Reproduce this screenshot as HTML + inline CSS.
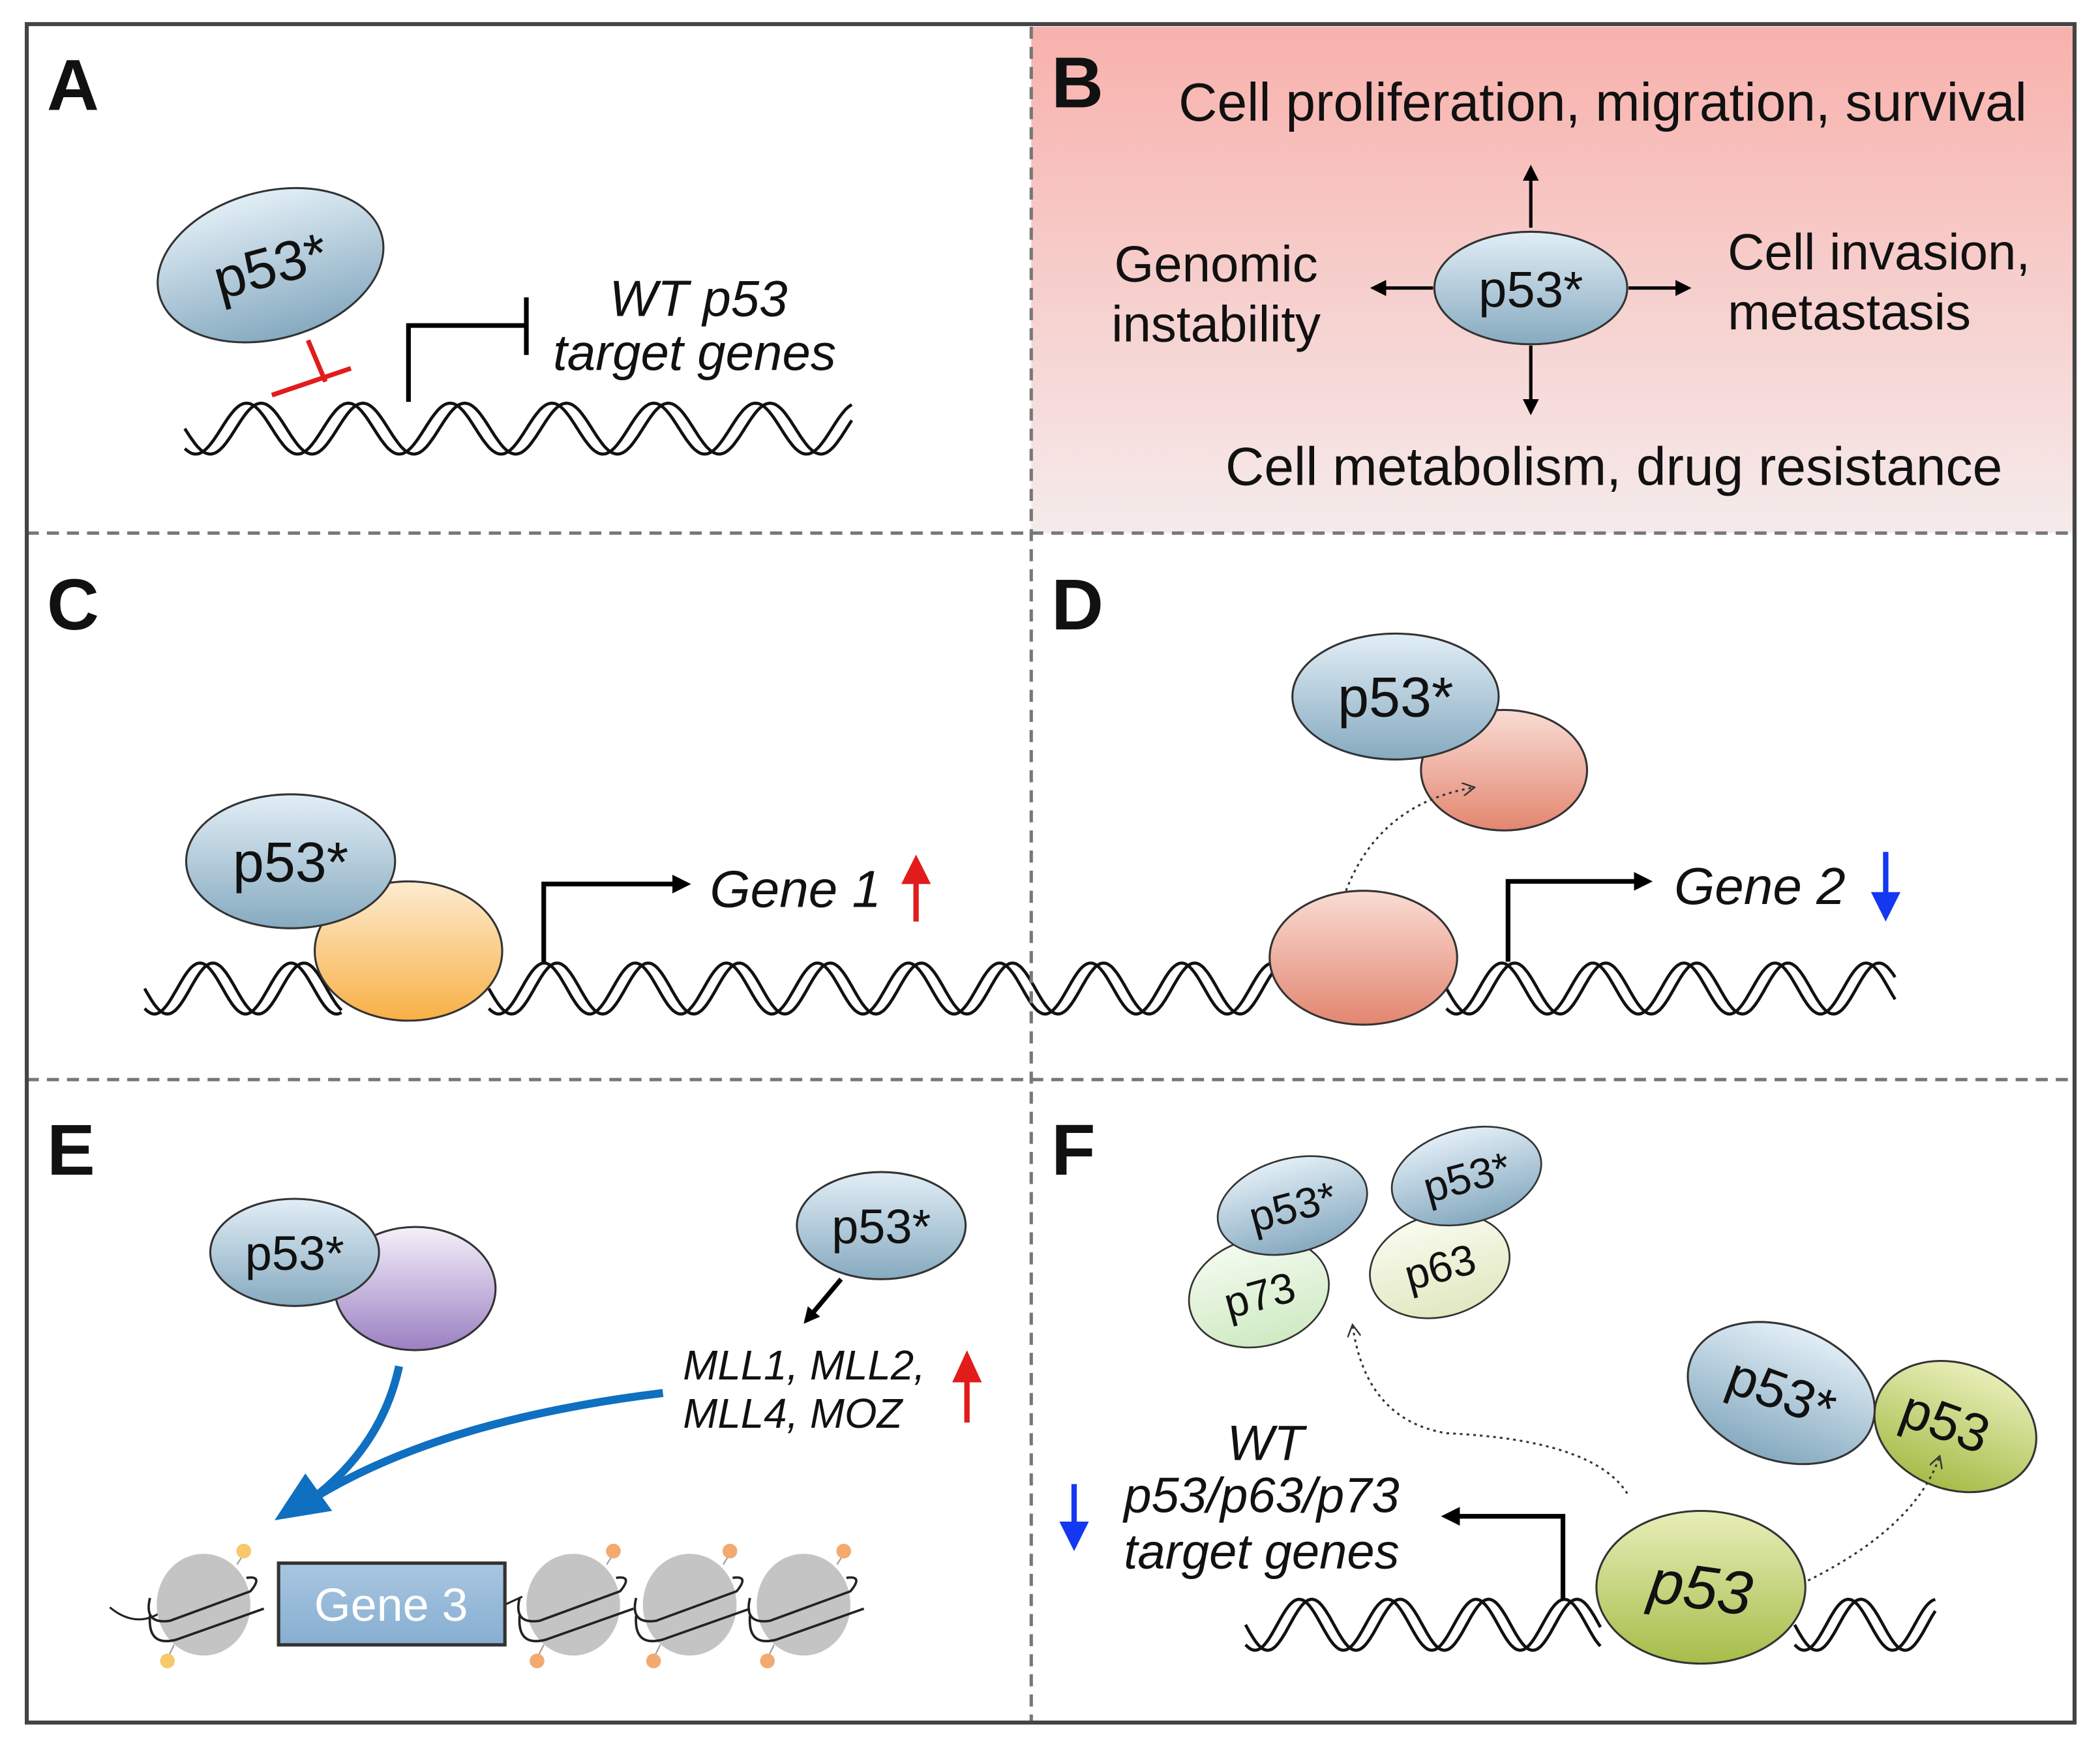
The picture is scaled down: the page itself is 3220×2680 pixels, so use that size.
<!DOCTYPE html>
<html><head><meta charset="utf-8"><style>
html,body{margin:0;padding:0;background:#fff}
svg{display:block}
text{font-family:"Liberation Sans",Arial,sans-serif;fill:#111}
</style></head><body>
<svg id="s" width="3220" height="2680" viewBox="0 0 1568 1305" preserveAspectRatio="none" xmlns="http://www.w3.org/2000/svg">
<defs>
<linearGradient id="pink" x1="0" y1="0" x2="0" y2="1"><stop offset="0" stop-color="#f8b1ac"/><stop offset="1" stop-color="#f5ebeb"/></linearGradient>
<linearGradient id="blue" x1="0" y1="0" x2="0" y2="1"><stop offset="0" stop-color="#e2eef6"/><stop offset="1" stop-color="#86aac0"/></linearGradient>
<linearGradient id="orange" x1="0" y1="0" x2="0" y2="1"><stop offset="0" stop-color="#fdebd0"/><stop offset="1" stop-color="#f8b045"/></linearGradient>
<linearGradient id="salmon" x1="0" y1="0" x2="0" y2="1"><stop offset="0" stop-color="#f9dcd4"/><stop offset="1" stop-color="#e38670"/></linearGradient>
<linearGradient id="purple" x1="0" y1="0" x2="0" y2="1"><stop offset="0" stop-color="#f6f0fa"/><stop offset="1" stop-color="#9a80c2"/></linearGradient>
<linearGradient id="green" x1="0" y1="0" x2="0" y2="1"><stop offset="0" stop-color="#e8eeb8"/><stop offset="1" stop-color="#a5bd4a"/></linearGradient>
<linearGradient id="lg1" x1="0" y1="0" x2="0" y2="1"><stop offset="0" stop-color="#f4fbf0"/><stop offset="1" stop-color="#cfeac2"/></linearGradient>
<linearGradient id="lg2" x1="0" y1="0" x2="0" y2="1"><stop offset="0" stop-color="#fafbef"/><stop offset="1" stop-color="#e0e8c0"/></linearGradient>
<linearGradient id="gene" x1="0" y1="0" x2="0" y2="1"><stop offset="0" stop-color="#a9c6e0"/><stop offset="1" stop-color="#86aed2"/></linearGradient>
<marker id="ah" markerWidth="12" markerHeight="12" refX="9" refY="6" orient="auto" markerUnits="userSpaceOnUse" viewBox="0 0 12 12"><path d="M0,0 L12,6 L0,12 z" fill="#000"/></marker>
<marker id="ahb" markerWidth="14" markerHeight="14" refX="10" refY="7" orient="auto" markerUnits="userSpaceOnUse" viewBox="0 0 14 14"><path d="M0,0 L14,7 L0,14 z" fill="#000"/></marker>
<marker id="ahd" markerWidth="10" markerHeight="10" refX="8" refY="5" orient="auto" markerUnits="userSpaceOnUse" viewBox="0 0 10 10"><path d="M0,0 L9,5 L0,10" fill="none" stroke="#333" stroke-width="1.2"/></marker>
</defs>
<rect x="770" y="20" width="778" height="378" fill="url(#pink)"/>
<g id="helix" fill="none" stroke="#111" stroke-width="2.3"></g>

<g font-weight="bold" font-size="54">
<text x="35" y="82">A</text><text x="785" y="80">B</text><text x="35" y="470">C</text><text x="785" y="470">D</text><text x="35" y="877">E</text><text x="785" y="877">F</text>
</g>

<!-- A -->
<ellipse cx="202" cy="198" rx="86" ry="55" transform="rotate(-15 202 198)" fill="url(#blue)" stroke="#333" stroke-width="1.5"/>
<text x="202" y="213" font-size="42" text-anchor="middle" transform="rotate(-15 202 198)">p53*</text>
<line x1="230" y1="254" x2="243" y2="285" stroke="#e21b1b" stroke-width="3.5"/>
<line x1="203" y1="295" x2="262" y2="275" stroke="#e21b1b" stroke-width="3.5"/>
<polyline points="305,300 305,243 393,243" fill="none" stroke="#000" stroke-width="3.5"/>
<line x1="393" y1="222" x2="393" y2="265" stroke="#000" stroke-width="3.5"/>
<text x="455" y="236" font-size="38" font-style="italic">WT p53</text>
<text x="413" y="276" font-size="38" font-style="italic">target genes</text>

<!-- B -->
<text x="880" y="90" font-size="40">Cell proliferation, migration, survival</text>
<ellipse cx="1143" cy="215" rx="72" ry="42" fill="url(#blue)" stroke="#333" stroke-width="1.5"/>
<text x="1143" y="229" font-size="38" text-anchor="middle">p53*</text>
<g stroke="#000" stroke-width="2.5">
<line x1="1143" y1="170" x2="1143" y2="126" marker-end="url(#ah)"/>
<line x1="1143" y1="258" x2="1143" y2="307" marker-end="url(#ah)"/>
<line x1="1070" y1="215" x2="1026" y2="215" marker-end="url(#ah)"/>
<line x1="1216" y1="215" x2="1260" y2="215" marker-end="url(#ah)"/>
</g>
<text x="908" y="210" font-size="38" text-anchor="middle">Genomic</text>
<text x="908" y="255" font-size="38" text-anchor="middle">instability</text>
<text x="1290" y="201" font-size="38">Cell invasion,</text>
<text x="1290" y="246" font-size="38">metastasis</text>
<text x="915" y="362" font-size="40">Cell metabolism, drug resistance</text>

<!-- C -->
<ellipse cx="305" cy="710" rx="70" ry="52" fill="url(#orange)" stroke="#333" stroke-width="1.5"/>
<ellipse cx="217" cy="643" rx="78" ry="50" fill="url(#blue)" stroke="#333" stroke-width="1.5"/>
<text x="217" y="658" font-size="42" text-anchor="middle">p53*</text>
<polyline points="406,718 406,660 512,660" fill="none" stroke="#000" stroke-width="3.5" marker-end="url(#ahb)"/>
<text x="530" y="677" font-size="39" font-style="italic">Gene 1</text>
<line x1="684" y1="688" x2="684" y2="656" stroke="#e21b1b" stroke-width="4"/>
<path d="M673,660 L684,638 L695,660 z" fill="#e21b1b"/>

<!-- D -->
<ellipse cx="1123" cy="575" rx="62" ry="45" fill="url(#salmon)" stroke="#333" stroke-width="1.5"/>
<ellipse cx="1042" cy="520" rx="77" ry="47" fill="url(#blue)" stroke="#333" stroke-width="1.5"/>
<text x="1042" y="535" font-size="42" text-anchor="middle">p53*</text>
<ellipse cx="1018" cy="715" rx="70" ry="50" fill="url(#salmon)" stroke="#333" stroke-width="1.5"/>
<path d="M1005,665 Q1030,600 1100,588" fill="none" stroke="#333" stroke-width="1.5" stroke-dasharray="2,3" marker-end="url(#ahd)"/>
<polyline points="1126,718 1126,658 1230,658" fill="none" stroke="#000" stroke-width="3.5" marker-end="url(#ahb)"/>
<text x="1250" y="675" font-size="39" font-style="italic">Gene 2</text>
<line x1="1408" y1="636" x2="1408" y2="668" stroke="#1438f0" stroke-width="4"/>
<path d="M1397,666 L1408,688 L1419,666 z" fill="#1438f0"/>

<!-- E -->
<ellipse cx="310" cy="962" rx="60" ry="46" fill="url(#purple)" stroke="#333" stroke-width="1.5"/>
<ellipse cx="220" cy="935" rx="63" ry="40" fill="url(#blue)" stroke="#333" stroke-width="1.5"/>
<text x="220" y="948" font-size="36" text-anchor="middle">p53*</text>
<ellipse cx="658" cy="915" rx="63" ry="40" fill="url(#blue)" stroke="#333" stroke-width="1.5"/>
<text x="658" y="928" font-size="36" text-anchor="middle">p53*</text>
<line x1="628" y1="955" x2="602" y2="986" stroke="#000" stroke-width="3.5" marker-end="url(#ah)"/>
<text x="510" y="1030" font-size="31" font-style="italic">MLL1, MLL2,</text>
<text x="510" y="1066" font-size="31" font-style="italic">MLL4, MOZ</text>
<line x1="722" y1="1062" x2="722" y2="1030" stroke="#e21b1b" stroke-width="4"/>
<path d="M711,1032 L722,1008 L733,1032 z" fill="#e21b1b"/>
<path d="M298,1020 Q285,1080 232,1120" fill="none" stroke="#0f6fc0" stroke-width="6"/>
<path d="M495,1040 Q330,1060 235,1118" fill="none" stroke="#0f6fc0" stroke-width="6"/>
<path d="M205,1135 L228,1100 L248,1128 z" fill="#0f6fc0"/>
<g id="nuc"></g>
<rect x="208" y="1167" width="169" height="61" fill="url(#gene)" stroke="#333" stroke-width="2.5"/>
<text x="292" y="1210" font-size="35" text-anchor="middle" style="fill:#fff">Gene 3</text>

<!-- F -->
<ellipse cx="940" cy="965" rx="53" ry="40" transform="rotate(-15 940 965)" fill="url(#lg1)" stroke="#333" stroke-width="1.3"/>
<text x="940" y="978" font-size="32" text-anchor="middle" transform="rotate(-15 940 965)">p73</text>
<ellipse cx="965" cy="900" rx="57" ry="35" transform="rotate(-15 965 900)" fill="url(#blue)" stroke="#333" stroke-width="1.3"/>
<text x="965" y="912" font-size="32" text-anchor="middle" transform="rotate(-15 965 900)">p53*</text>
<ellipse cx="1075" cy="945" rx="53" ry="38" transform="rotate(-15 1075 945)" fill="url(#lg2)" stroke="#333" stroke-width="1.3"/>
<text x="1075" y="957" font-size="32" text-anchor="middle" transform="rotate(-15 1075 945)">p63</text>
<ellipse cx="1095" cy="878" rx="57" ry="35" transform="rotate(-15 1095 878)" fill="url(#blue)" stroke="#333" stroke-width="1.3"/>
<text x="1095" y="890" font-size="32" text-anchor="middle" transform="rotate(-15 1095 878)">p53*</text>
<ellipse cx="1460" cy="1065" rx="62" ry="47" transform="rotate(20 1460 1065)" fill="url(#green)" stroke="#333" stroke-width="1.5"/>
<text x="1452" y="1075" font-size="40" text-anchor="middle" transform="rotate(20 1452 1063)">p53</text>
<ellipse cx="1330" cy="1040" rx="72" ry="50" transform="rotate(20 1330 1040)" fill="url(#blue)" stroke="#333" stroke-width="1.5"/>
<text x="1330" y="1053" font-size="40" text-anchor="middle" transform="rotate(20 1330 1040)">p53*</text>
<path d="M1350,1180 Q1430,1140 1448,1088" fill="none" stroke="#333" stroke-width="1.5" stroke-dasharray="2,3" marker-end="url(#ahd)"/>
<path d="M1215,1115 Q1190,1075 1080,1070 Q1020,1060 1010,990" fill="none" stroke="#333" stroke-width="1.5" stroke-dasharray="2,3" marker-end="url(#ahd)"/>
<ellipse cx="1270" cy="1185" rx="78" ry="57" fill="url(#green)" stroke="#333" stroke-width="1.5"/>
<text x="1270" y="1201" font-size="46" font-style="italic" text-anchor="middle" transform="rotate(8 1270 1185)">p53</text>
<polyline points="1167,1195 1167,1132 1080,1132" fill="none" stroke="#000" stroke-width="3.5" marker-end="url(#ahb)"/>
<g font-size="37" font-style="italic" text-anchor="middle">
<text x="945" y="1090">WT</text><text x="942" y="1129">p53/p63/p73</text><text x="942" y="1171">target genes</text></g>
<line x1="802" y1="1108" x2="802" y2="1138" stroke="#1438f0" stroke-width="4"/>
<path d="M791,1136 L802,1158 L813,1136 z" fill="#1438f0"/>

<g stroke="#777" stroke-width="2.5" stroke-dasharray="9,6" fill="none">
<line x1="770" y1="20" x2="770" y2="1285"/>
<line x1="20" y1="398" x2="1548" y2="398"/>
<line x1="20" y1="806" x2="1548" y2="806"/>
</g>
<rect x="20" y="18" width="1529" height="1268" fill="none" stroke="#444" stroke-width="3"/>
</svg>
<script>
var NS="http://www.w3.org/2000/svg";
function helix(x0,x1,yc,period,amp,phase){
  var g=document.getElementById('helix');
  [0,0.9].forEach(function(off){
    var d="";
    for(var x=x0;x<=x1;x+=1){
      var y=yc+amp*Math.sin((x-x0)/period*2*Math.PI+phase+off);
      d+=(x==x0?"M":"L")+x+","+y.toFixed(1);
    }
    var p=document.createElementNS(NS,"path");p.setAttribute("d",d);g.appendChild(p);
  });
}
helix(138,636,320,76,19,0);
helix(108,255,738,68,19,0);
helix(365,955,738,68,19,0);
helix(1080,1415,738,68,19,0);
helix(930,1195,1213,66,19,0);
helix(1340,1445,1213,66,19,0);
var ng=document.getElementById('nuc');
function add(tag,attrs,parent){var e=document.createElementNS(NS,tag);for(var k in attrs)e.setAttribute(k,attrs[k]);(parent||ng).appendChild(e);return e;}
add("path",{d:"M82,1200 Q100,1215 118,1205 M377,1198 L390,1192",fill:"none",stroke:"#222","stroke-width":1.5});
[[152,"#f7c96a"],[428,"#f2aa70"],[515,"#f2aa70"],[600,"#f2aa70"]].forEach(function(n){
  var cx=n[0],cy=1198;
  add("ellipse",{cx:cx,cy:cy,rx:35,ry:38,fill:"#c4c4c4"});
  add("path",{d:"M"+(cx-40)+","+(cy-5)+" Q"+(cx-45)+","+(cy+15)+" "+(cx-25)+","+(cy+12)+" L"+(cx+35)+","+(cy-10)+" Q"+(cx+45)+","+(cy-22)+" "+(cx+32)+","+(cy-20)+" M"+(cx-40)+","+(cy+8)+" Q"+(cx-42)+","+(cy+32)+" "+(cx-20)+","+(cy+26)+" L"+(cx+45)+","+(cy+3),fill:"none",stroke:"#222","stroke-width":1.8});
  add("path",{d:"M"+(cx+25)+","+(cy-30)+" L"+(cx+30)+","+(cy-38)+" M"+(cx-22)+","+(cy+30)+" L"+(cx-27)+","+(cy+40),stroke:"#999","stroke-width":1});
  add("circle",{cx:cx+30,cy:cy-40,r:5.5,fill:n[1]});
  add("circle",{cx:cx-27,cy:cy+42,r:5.5,fill:n[1]});
});
</script>
</body></html>
